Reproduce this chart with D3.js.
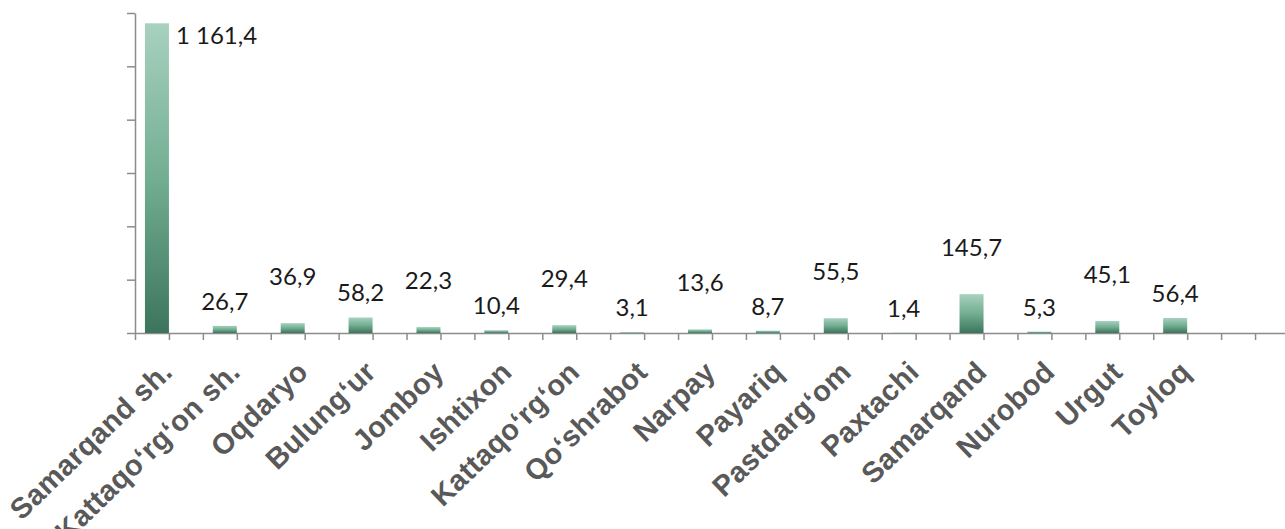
<!DOCTYPE html>
<html>
<head>
<meta charset="utf-8">
<script src="https://cdn.jsdelivr.net/npm/d3@7"></script>
<style>
  body { margin: 0; background: #fff; }
  .tick line, .domain { stroke: #8c8c8c; stroke-width: 1.5; }
  .cat-label { font-family: "Liberation Sans", Arial, sans-serif; font-weight: bold; font-size: 29px; letter-spacing: 0.3px; fill: #595959; }
  .val-label { font-family: Lato, "Open Sans", sans-serif; font-size: 24px; fill: #1a1a1a; }
</style>
</head>
<body>
<div id="chart"></div>
<script>
// districts of Samarqand region
const districts = ["Samarqand sh.", "Kattaqo‘rg‘on sh.", "Oqdaryo", "Bulung‘ur", "Jomboy", "Ishtixon",
  "Kattaqo‘rg‘on", "Qo‘shrabot", "Narpay", "Payariq", "Pastdarg‘om", "Paxtachi", "Samarqand",
  "Nurobod", "Urgut", "Toyloq"];
const values = [1161.4, 26.7, 36.9, 58.2, 22.3, 10.4, 29.4, 3.1, 13.6, 8.7, 55.5, 1.4, 145.7, 5.3, 45.1, 56.4];
const yTicks = [0, 200, 400, 600, 800, 1000, 1200];

const svgWidth = 1285, svgHeight = 529;
const plotLeft = 135, plotRight = 1289, plotTop = 13, plotBottom = 333;
const barWidth = 24;

const fmt = d3.formatLocale({ decimal: ",", thousands: " ", grouping: [3], currency: ["", ""] }).format(",.1f");

const svg = d3.select("#chart").append("svg").attr("width", svgWidth).attr("height", svgHeight);

// one extra empty slot at the end of the axis
const x = d3.scaleBand().domain(d3.range(districts.length + 1)).range([plotLeft, plotRight]).padding(0);
const xTick = d3.scaleLinear().domain([0, (districts.length + 1) * 2]).range([plotLeft, plotRight]);
const y = d3.scaleLinear().domain([0, 1200]).range([plotBottom, plotTop]);

const grad = svg.append("defs").append("linearGradient").attr("id", "barGrad").attr("x1", 0).attr("y1", 0).attr("x2", 0).attr("y2", 1);
grad.append("stop").attr("offset", "0%").attr("stop-color", "#a8d1bf");
grad.append("stop").attr("offset", "50%").attr("stop-color", "#72ae92");
grad.append("stop").attr("offset", "100%").attr("stop-color", "#3c755c");

// axes
svg.append("g").attr("transform", `translate(${plotLeft},0)`)
  .call(d3.axisLeft(y).tickValues(yTicks).tickSize(8).tickSizeOuter(0).tickFormat(""));
svg.append("g").attr("transform", `translate(0,${plotBottom})`)
  .call(d3.axisBottom(xTick).tickValues(d3.range(0, (districts.length + 1) * 2 + 1)).tickSize(7).tickSizeOuter(0).tickFormat(""));

const barRight = i => x(i) + x.bandwidth() / 2;

svg.selectAll(".bar").data(values).enter().append("rect").attr("class", "bar")
  .attr("x", (d, i) => barRight(i) - barWidth).attr("y", d => y(d))
  .attr("width", barWidth).attr("height", d => plotBottom - y(d))
  .attr("fill", "url(#barGrad)");

// value labels, staggered so neighbours don't collide
const maxVal = d3.max(values);
svg.selectAll(".val-label").data(values).enter().append("text").attr("class", "val-label")
  .attr("x", (d, i) => d === maxVal ? barRight(i) + 7 : barRight(i) - barWidth / 2)
  .attr("y", (d, i) => d === maxVal ? y(d) + 21 : y(d) - (i % 2 ? 25 : 47) + 9)
  .attr("text-anchor", d => d === maxVal ? "start" : "middle")
  .text(d => fmt(d));

svg.selectAll(".cat-label").data(districts).enter().append("text").attr("class", "cat-label")
  .attr("transform", (d, i) => `translate(${barRight(i) + 5},374) rotate(-44)`)
  .attr("text-anchor", "end")
  .text(d => d);
</script>
</body>
</html>
